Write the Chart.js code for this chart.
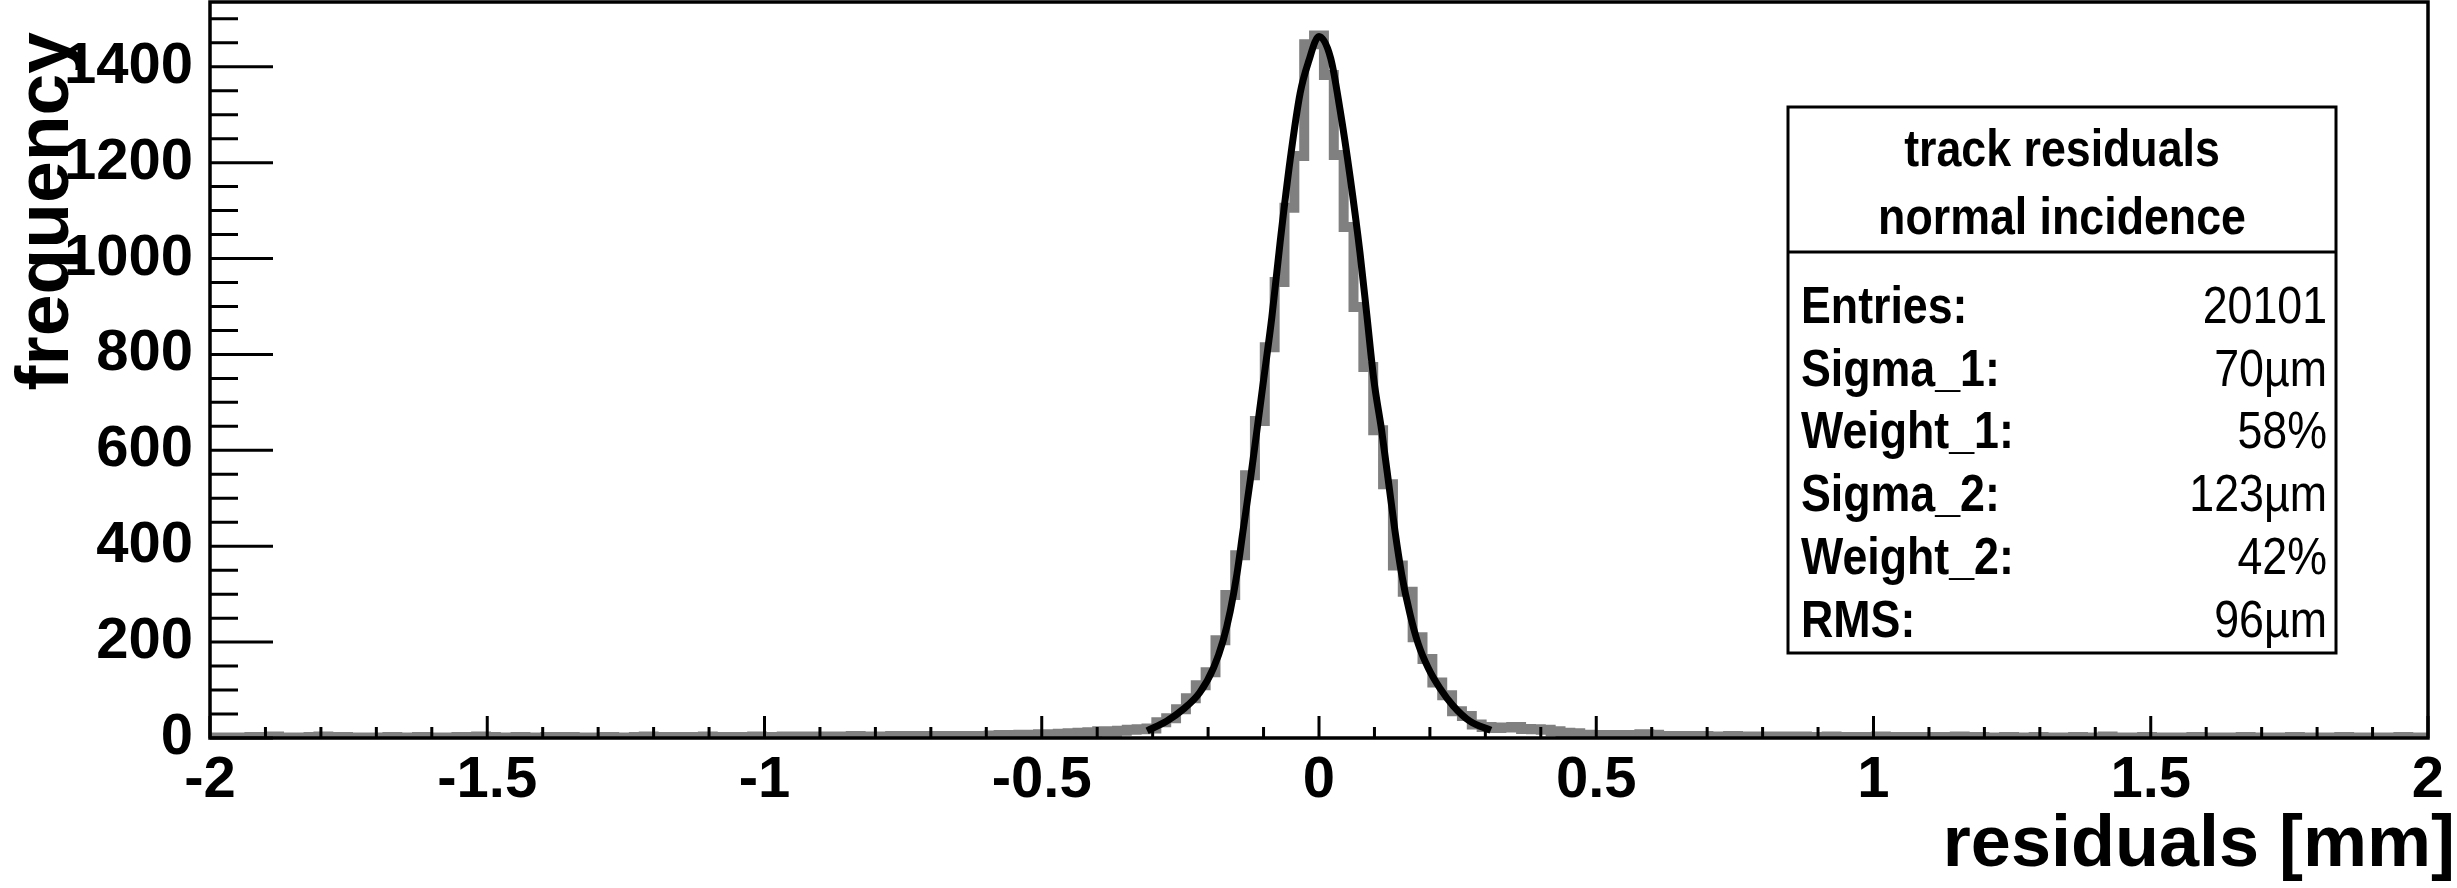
<!DOCTYPE html>
<html>
<head>
<meta charset="utf-8">
<script src="https://cdn.jsdelivr.net/npm/chart.js@4.4.1/dist/chart.umd.min.js"></script>
<style>
  body { margin: 0; background: #fff; }
</style>
</head>
<body>
<canvas id="myChart" width="2457" height="888"></canvas>
<script>
// Histogram range and binning (mm)
var xMin = -2, xMax = 2, nBins = 225;

// Bin contents from left to right
var tailLeft = [1,0,1,0,2,1,3,1,0,1, 2,3,1,2,0,1,1,0,2,1, 1,2,0,1,1,2,1,3,2,1,
                0,2,1,1,2,1,2,1,0,1, 2,1,1,2,3,1,2,2,1,2, 3,2,1,2,2,3,2,2,3,2,
                3,2,3,3,2,4,3,2,3,4, 3,4,3,4,3,4];
var flankLeft = [3,4,4,5,6,5,7,6,8,7,9,10,11,12,14,13,15,17,18];
var core = [20,33,41,60,83,110,137,204,298,381,548,661,815,951,1106,1214,1447,
            1465,
            1383,1216,1066,899,774,642,529,360,305,210,165,116,89,56,46,28,23];
var flankRight = [21,22,23,19,18,17,14,11,10,7,6,6,5,6,6,8,7,4,4];
var tailRight = [4,3,4,3,3,4,2,3,3,2, 3,2,3,2,2,3,2,1,2,2, 3,2,1,2,1,2,2,1,3,1,
                 2,1,1,2,0,1,2,1,1,0, 2,1,1,3,1,0,1,2,1,1, 0,1,2,1,0,1,1,2,0,1,
                 1,0,2,1,1,0,1,2,1,0, 1,1,0,2,1,1];

// Double gaussian fit
var fitX = [-0.31,-0.275,-0.245,-0.215,-0.19,-0.173,-0.16,-0.148,-0.137,-0.124,-0.112,-0.1,
            -0.085,-0.07,-0.052,-0.034,-0.019,0,0.021,0.038,0.056,0.074,0.086,0.099,
            0.113,0.125,0.137,0.149,0.164,0.179,0.197,0.218,0.242,0.272,0.31];
var fitY = [15,35,60,95,147,203,265,342,432,537,641,746,
            878,1035,1206,1345,1410,1463,1418,1310,1171,1011,885,746,
            641,537,432,342,259,196,146,104,67,35,16];

var xTicks = [-2, -1.5, -1, -0.5, 0, 0.5, 1, 1.5, 2];
var yTicks = [0, 200, 400, 600, 800, 1000, 1200, 1400];

var statsTitle = ['track residuals', 'normal incidence'];
var statsLabels = ['Entries:', 'Sigma_1:', 'Weight_1:', 'Sigma_2:', 'Weight_2:', 'RMS:'];
var statsValues = ['20101', '70\u00b5m', '58%', '123\u00b5m', '42%', '96\u00b5m'];

var xTitle = 'residuals [mm]';
var yTitle = 'frequency';

// step outline: one point per lower bin edge, plus the closing edge
var counts = tailLeft.concat(flankLeft, core, flankRight, tailRight);
var binW = (xMax - xMin) / nBins;
var histPts = counts.map(function (c, i) { return { x: xMin + i * binW, y: c }; });
histPts.push({ x: xMax, y: counts[counts.length - 1] });

var fitPts = fitX.map(function (x, i) { return { x: x, y: fitY[i] }; });

var FONT = '"Liberation Sans", Arial, Helvetica, sans-serif';

function narrowText(ctx, text, x, y, align, font) {
  ctx.save();
  ctx.font = font;
  ctx.textAlign = align;
  ctx.textBaseline = 'alphabetic';
  ctx.translate(x, y);
  ctx.scale(0.86, 1);
  ctx.fillText(text, 0, 0);
  ctx.restore();
}

var rootStyle = {
  id: 'rootStyle',
  afterDatasetsDraw: function (chart) {
    var ctx = chart.ctx, a = chart.chartArea;
    var xs = chart.scales.x, ys = chart.scales.y;
    ctx.save();
    ctx.strokeStyle = '#000';
    ctx.lineWidth = 3;
    ctx.beginPath();
    // y ticks point into the frame
    for (var v = 0; v <= ys.max; v += 50) {
      var py = ys.getPixelForValue(v);
      var ly = (v % 200 === 0) ? 63 : 28;
      ctx.moveTo(a.left, py);
      ctx.lineTo(a.left + ly, py);
    }
    // x ticks, every 0.1 mm
    for (var i = 0; i <= 40; i++) {
      var px = xs.getPixelForValue(xMin + i * 0.1);
      var lx = (i % 5 === 0) ? 22 : 11;
      ctx.moveTo(px, a.bottom);
      ctx.lineTo(px, a.bottom - lx);
    }
    ctx.stroke();

    // frame
    ctx.lineWidth = 3.5;
    ctx.strokeRect(a.left, a.top, a.right - a.left, a.bottom - a.top);

    // stats box
    var bx0 = 1788, bx1 = 2336, by0 = 107, by1 = 653, bDiv = 252;
    ctx.fillStyle = '#fff';
    ctx.fillRect(bx0, by0, bx1 - bx0, by1 - by0);
    ctx.lineWidth = 3;
    ctx.strokeRect(bx0, by0, bx1 - bx0, by1 - by0);
    ctx.beginPath();
    ctx.moveTo(bx0, bDiv);
    ctx.lineTo(bx1, bDiv);
    ctx.stroke();

    ctx.fillStyle = '#000';
    var cx = (bx0 + bx1) / 2;
    narrowText(ctx, statsTitle[0], cx, 166, 'center', 'bold 52px ' + FONT);
    narrowText(ctx, statsTitle[1], cx, 234, 'center', 'bold 52px ' + FONT);
    for (var r = 0; r < statsLabels.length; r++) {
      var by = 323 + r * 62.7;
      narrowText(ctx, statsLabels[r], 1801, by, 'left', 'bold 52px ' + FONT);
      narrowText(ctx, statsValues[r], 2327, by, 'right', '52px ' + FONT);
    }
    ctx.restore();
  },
  afterDraw: function (chart) {
    var ctx = chart.ctx;
    ctx.save();
    ctx.fillStyle = '#000';
    ctx.textBaseline = 'alphabetic';
    ctx.textAlign = 'right';
    ctx.font = 'bold 72px ' + FONT;
    ctx.fillText(xTitle, 2455, 866);
    ctx.font = 'bold 75px ' + FONT;
    ctx.translate(68, 32);
    ctx.rotate(-Math.PI / 2);
    ctx.fillText(yTitle, 0, 0);
    ctx.restore();
  }
};

var ctx = document.getElementById('myChart').getContext('2d');
var myChart = new Chart(ctx, {
  type: 'line',
  data: {
    datasets: [{
      label: 'fit',
      data: fitPts,
      borderColor: '#000',
      borderWidth: 7,
      pointRadius: 0,
      fill: false,
      cubicInterpolationMode: 'monotone',
      order: 1
    }, {
      label: 'residuals',
      data: histPts,
      borderColor: '#808080',
      borderWidth: 10,
      pointRadius: 0,
      fill: false,
      stepped: 'before',
      order: 2
    }]
  },
  options: {
    responsive: false,
    animation: false,
    layout: { padding: { top: 2, right: 29, left: 0, bottom: 0 } },
    plugins: { legend: { display: false }, tooltip: { enabled: false } },
    scales: {
      x: {
        type: 'linear',
        min: xMin,
        max: xMax,
        afterFit: function (s) { s.height = 150; s.paddingLeft = 0; s.paddingRight = 0; },
        afterBuildTicks: function (s) { s.ticks = xTicks.map(function (v) { return { value: v }; }); },
        grid: { display: false, drawTicks: false },
        border: { display: false },
        ticks: {
          padding: 8,
          color: '#000',
          font: { family: FONT, size: 58, weight: 'bold' },
          maxRotation: 0,
          callback: function (v) { return String(v); }
        }
      },
      y: {
        type: 'linear',
        min: 0,
        max: 1535,
        afterFit: function (s) { s.width = 210; s.paddingTop = 0; s.paddingBottom = 0; },
        afterBuildTicks: function (s) { s.ticks = yTicks.map(function (v) { return { value: v }; }); },
        grid: { display: false, drawTicks: false },
        border: { display: false },
        ticks: {
          padding: 17,
          color: '#000',
          font: { family: FONT, size: 58, weight: 'bold' },
          callback: function (v) { return String(v); }
        }
      }
    }
  },
  plugins: [rootStyle]
});
</script>
</body>
</html>
